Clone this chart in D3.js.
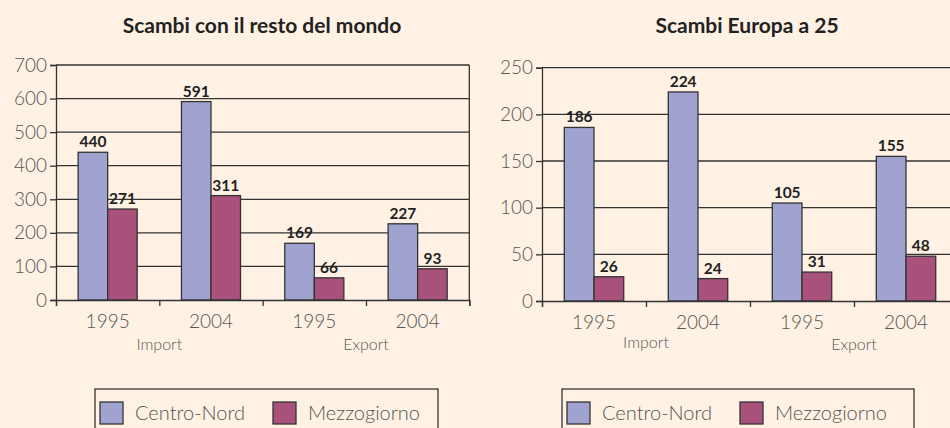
<!DOCTYPE html>
<html>
<head>
<meta charset="utf-8">
<script src="https://cdn.jsdelivr.net/npm/d3@7"></script>
<style>
  body { margin: 0; background: #fff2e4; }
  svg { display: block; font-family: Lato, "Open Sans", sans-serif; }
  .tick-label { fill: #555; font-weight: 300; }
  .value { font-weight: 700; fill: #222; font-size: 15.5px; }
</style>
</head>
<body>
<svg id="chart" width="950" height="428"></svg>
<script>
const years = ["1995", "2004", "1995", "2004"];
const flows = ["Import", "Export"];
const seriesNames = ["Centro-Nord", "Mezzogiorno"];
const seriesColors = ["#a0a2d0", "#a8517a"];

const mondoCentroNord = [440, 591, 169, 227];
const mondoMezzogiorno = [271, 311, 66, 93];
const mondoTicks = [0, 100, 200, 300, 400, 500, 600, 700];

const europaCentroNord = [186, 224, 105, 155];
const europaMezzogiorno = [26, 24, 31, 48];
const europaTicks = [0, 50, 100, 150, 200, 250];

const svg = d3.select("#chart");

svg.append("rect")
  .attr("width", 950)
  .attr("height", 428)
  .attr("fill", "#fff2e4");

function drawChart(opt) {
  const g = svg.append("g");

  const x = d3.scaleBand()
    .domain(d3.range(years.length))
    .range([opt.left, opt.right]);

  const xs = d3.scaleBand()
    .domain(seriesNames)
    .range([0, x.bandwidth()])
    .paddingOuter(0.75);

  const y = d3.scaleLinear()
    .domain([0, d3.max(opt.ticks)])
    .range([opt.bottom, opt.top]);

  // title
  g.append("text")
    .attr("x", opt.titleX)
    .attr("y", 33)
    .attr("text-anchor", "middle")
    .attr("font-size", 21)
    .attr("font-weight", 700)
    .attr("fill", "#222")
    .text(opt.title);

  // gridlines
  g.selectAll(".grid")
    .data(opt.ticks.slice(1))
    .enter()
    .append("line")
    .attr("x1", opt.left)
    .attr("x2", opt.right)
    .attr("y1", (d) => y(d))
    .attr("y2", (d) => y(d))
    .attr("stroke", "#333")
    .attr("stroke-width", 1.3);

  // right border
  g.append("line")
    .attr("x1", opt.right)
    .attr("x2", opt.right)
    .attr("y1", opt.top)
    .attr("y2", opt.bottom)
    .attr("stroke", "#333")
    .attr("stroke-width", 1.3);

  // bars
  const rows = years.map((yr, i) => ({
    i,
    values: [opt.centroNord[i], opt.mezzogiorno[i]]
  }));

  const grp = g.selectAll(".grp")
    .data(rows)
    .enter()
    .append("g")
    .attr("transform", (d) => `translate(${x(d.i)},0)`);

  const bars = grp.selectAll("g")
    .data((d) => d.values.map((v, k) => ({ v, name: seriesNames[k], k })))
    .enter()
    .append("g");

  bars.append("rect")
    .attr("x", (d) => xs(d.name))
    .attr("y", (d) => y(d.v))
    .attr("width", xs.bandwidth())
    .attr("height", (d) => y(0) - y(d.v))
    .attr("fill", (d) => seriesColors[d.k])
    .attr("stroke", "#333")
    .attr("stroke-width", 1.3);

  bars.append("text")
    .attr("class", "value")
    .attr("x", (d) => xs(d.name) + xs.bandwidth() / 2)
    .attr("y", (d) => y(d.v) - 5)
    .attr("text-anchor", "middle")
    .text((d) => d.v);

  // y axis
  const yAxis = g.append("g")
    .attr("transform", `translate(${opt.left},0)`)
    .call(d3.axisLeft(y).tickValues(opt.ticks).tickSize(6).tickPadding(3));
  yAxis.select(".domain").attr("stroke", "#333").attr("stroke-width", 1.3);
  yAxis.selectAll(".tick line").attr("stroke", "#333").attr("stroke-width", 1.3);
  yAxis.selectAll(".tick text")
    .attr("class", "tick-label")
    .attr("font-size", 19)
    .attr("font-family", "Lato, sans-serif");

  // x axis with ticks at band edges
  const edges = d3.scaleLinear()
    .domain([0, years.length])
    .range([opt.left, opt.right]);
  const xAxis = g.append("g")
    .attr("transform", `translate(0,${opt.bottom})`)
    .call(d3.axisBottom(edges).ticks(years.length).tickSize(6).tickFormat(""));
  xAxis.select(".domain").attr("stroke", "#333").attr("stroke-width", 1.3);
  xAxis.selectAll(".tick line").attr("stroke", "#333").attr("stroke-width", 1.3);

  g.selectAll(".year")
    .data(years)
    .enter()
    .append("text")
    .attr("class", "tick-label")
    .attr("x", (d, i) => x(i) + x.bandwidth() / 2)
    .attr("y", opt.bottom + 28)
    .attr("text-anchor", "middle")
    .attr("font-size", 19)
    .text((d) => d);

  g.selectAll(".flow")
    .data(flows)
    .enter()
    .append("text")
    .attr("class", "tick-label")
    .attr("x", (d, i) => x(i * 2 + 1))
    .attr("y", (d, i) => opt.bottom + opt.flowDy[i])
    .attr("text-anchor", "middle")
    .attr("font-size", 16)
    .text((d) => d);

  // legend
  const lg = g.append("g").attr("transform", `translate(${opt.legendX},389)`);
  lg.append("rect")
    .attr("width", opt.legendW)
    .attr("height", 60)
    .attr("fill", "none")
    .attr("stroke", "#333")
    .attr("stroke-width", 1.3);

  const item = lg.selectAll(".item")
    .data(seriesNames)
    .enter()
    .append("g")
    .attr("transform", (d, i) => `translate(${5 + i * opt.legendStep},13)`);
  item.append("rect")
    .attr("width", 23)
    .attr("height", 22)
    .attr("fill", (d, i) => seriesColors[i])
    .attr("stroke", "#333")
    .attr("stroke-width", 1.3);
  item.append("text")
    .attr("class", "tick-label")
    .attr("x", 35)
    .attr("y", 18)
    .attr("font-size", 20)
    .text((d) => d);
}

drawChart({
  title: "Scambi con il resto del mondo",
  titleX: 262,
  left: 56, right: 469.3, top: 65, bottom: 300,
  ticks: mondoTicks,
  centroNord: mondoCentroNord,
  mezzogiorno: mondoMezzogiorno,
  flowDy: [50, 50],
  legendX: 95, legendW: 343, legendStep: 173
});

drawChart({
  title: "Scambi Europa a 25",
  titleX: 747,
  left: 542, right: 958, top: 67.7, bottom: 301,
  ticks: europaTicks,
  centroNord: europaCentroNord,
  mezzogiorno: europaMezzogiorno,
  flowDy: [47, 49],
  legendX: 562, legendW: 352, legendStep: 173
});
</script>
</body>
</html>
